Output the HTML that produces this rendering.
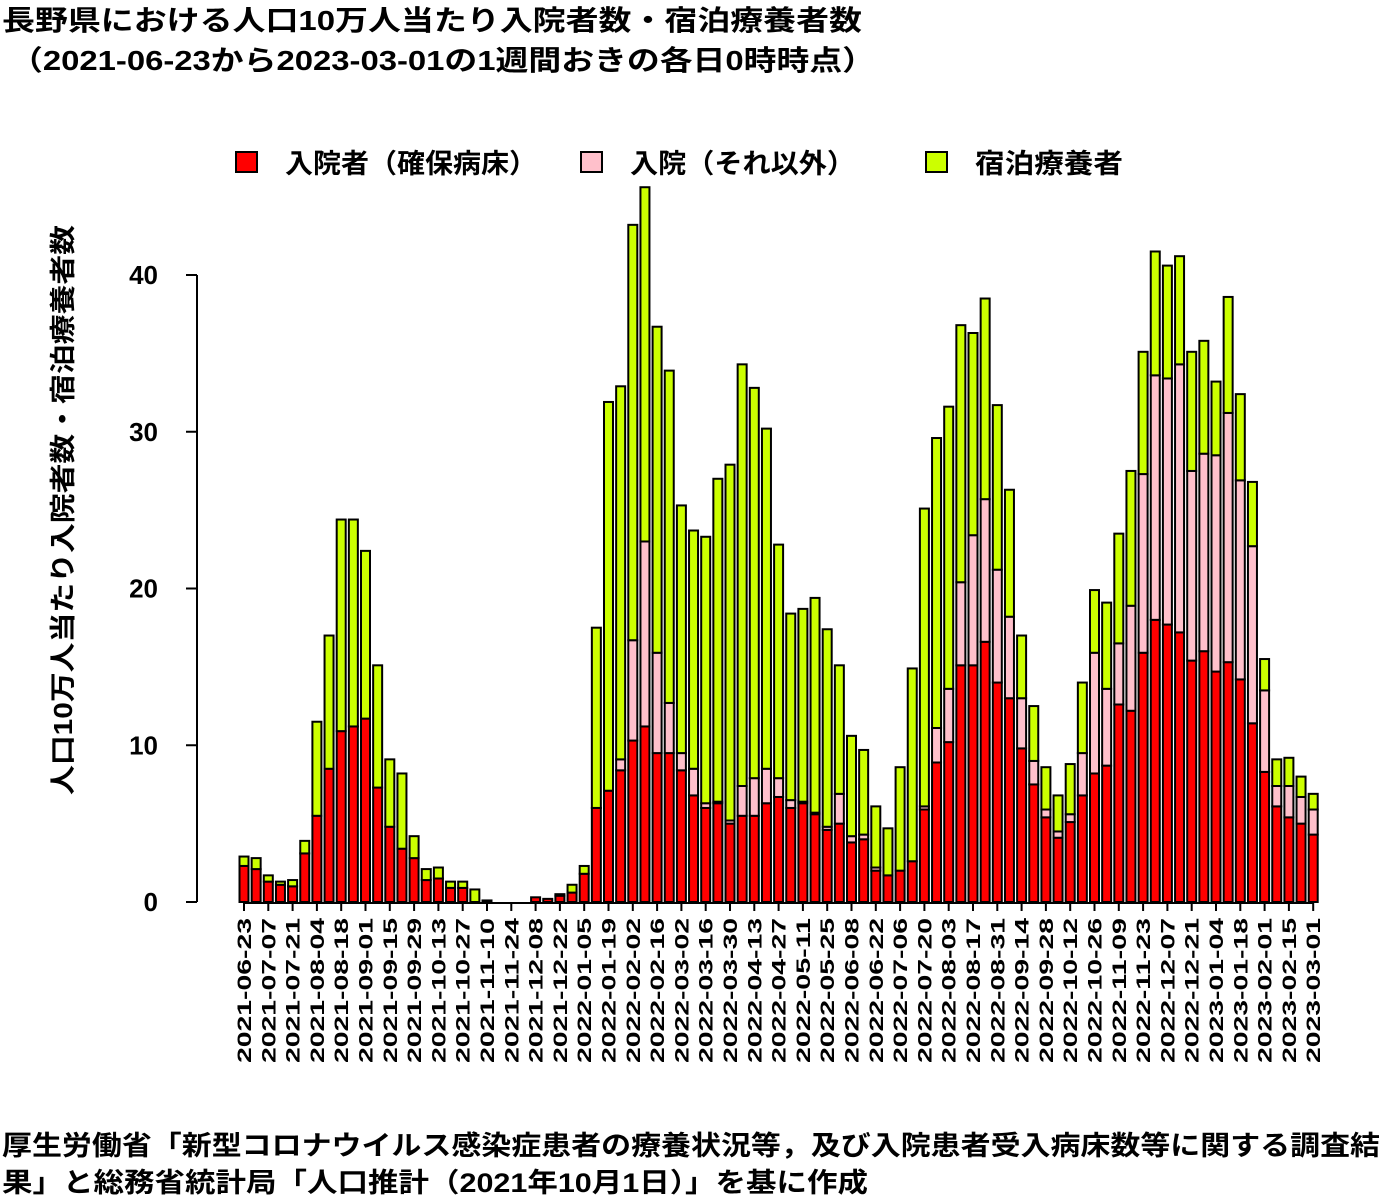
<!DOCTYPE html>
<html><head><meta charset="utf-8">
<style>
body{margin:0;background:#fff;}
svg{display:block;font-family:"Liberation Sans","Noto Sans CJK JP",sans-serif;font-weight:bold;}
</style></head>
<body>
<svg id="chart" width="1400" height="1200" viewBox="0 0 1400 1200">
<text x="2" y="30" font-size="28" textLength="860" lengthAdjust="spacingAndGlyphs">長野県における人口10万人当たり入院者数・宿泊療養者数</text>
<text x="10" y="70" font-size="28" textLength="865" lengthAdjust="spacingAndGlyphs">（2021-06-23から2023-03-01の1週間おきの各日0時時点）</text>
<g>
<rect x="236" y="152" width="21" height="20" fill="#ff0000" stroke="#000" stroke-width="2"/>
<text x="285" y="173" font-size="27" textLength="252" lengthAdjust="spacingAndGlyphs">入院者（確保病床）</text>
<rect x="581" y="152" width="21" height="20" fill="#ffc0cb" stroke="#000" stroke-width="2"/>
<text x="630" y="173" font-size="27" textLength="225" lengthAdjust="spacingAndGlyphs">入院（それ以外）</text>
<rect x="926" y="152" width="21" height="20" fill="#ccff00" stroke="#000" stroke-width="2"/>
<text x="975" y="173" font-size="27" textLength="148" lengthAdjust="spacingAndGlyphs">宿泊療養者</text>
</g>
<text transform="translate(72,510) rotate(-90)" text-anchor="middle" font-size="26" textLength="570" lengthAdjust="spacingAndGlyphs">人口10万人当たり入院者数・宿泊療養者数</text>
<g id="yaxis"></g>
<g id="bars"></g>
<g id="xaxis"></g>
<text x="2" y="1155" font-size="27" textLength="1378" lengthAdjust="spacingAndGlyphs">厚生労働省「新型コロナウイルス感染症患者の療養状況等，及び入院患者受入病床数等に関する調査結</text>
<text x="2" y="1192" font-size="27" textLength="866" lengthAdjust="spacingAndGlyphs">果」と総務省統計局「人口推計（2021年10月1日）」を基に作成</text>
</svg>
<script>
const startDate = "2021-06-23";
const secured = [2.3,2.1,1.3,1.1,1.0,3.1,5.5,8.5,10.9,11.2,11.7,7.3,4.8,3.4,2.8,1.4,1.5,0.9,0.9,0,0.1,0,0,0,0.3,0.2,0.4,0.6,1.8,6.0,7.1,8.4,10.3,11.2,9.5,9.5,8.4,6.8,6.0,6.3,5.0,5.5,5.5,6.3,6.7,6.0,6.3,5.6,4.6,5.0,3.8,4.0,2.0,1.7,2.0,2.6,5.9,8.9,10.2,15.1,15.1,16.6,14.0,13.0,9.8,7.5,5.4,4.1,5.1,6.8,8.2,8.7,12.6,12.2,15.9,18.0,17.7,17.2,15.4,16.0,14.7,15.3,14.2,11.4,8.3,6.1,5.4,5.0,4.3];
const other = [0,0,0,0,0,0,0,0,0,0,0,0,0,0,0,0,0,0,0,0,0,0,0,0,0,0,0,0,0,0,0,0.7,6.4,11.8,6.4,3.2,1.1,1.7,0.3,0.1,0.2,1.9,2.4,2.2,1.2,0.5,0.1,0.1,0.2,1.9,0.4,0.3,0.2,0,0,0,0.2,2.2,3.4,5.3,8.3,9.1,7.2,5.2,3.2,1.5,0.5,0.4,0.5,2.7,7.7,4.9,3.9,6.7,11.4,15.6,15.7,17.1,12.1,12.6,13.8,15.9,12.7,11.3,5.2,1.3,2.0,1.7,1.6];
const hotel = [0.6,0.7,0.4,0.2,0.4,0.8,6.0,8.5,13.5,13.2,10.7,7.8,4.3,4.8,1.4,0.7,0.7,0.4,0.4,0.8,0,0,0,0,0,0,0.1,0.5,0.5,11.5,24.8,23.8,26.5,22.6,20.8,21.2,15.8,15.2,17.0,20.6,22.7,26.9,24.9,21.7,14.9,11.9,12.3,13.7,12.6,8.2,6.4,5.4,3.9,3.0,6.6,12.3,19.0,18.5,18.0,16.4,12.9,12.8,10.5,8.1,4.0,3.5,2.7,2.3,3.2,4.5,4.0,5.5,7.0,8.6,7.8,7.9,7.2,6.9,7.6,7.2,4.7,7.4,5.5,4.1,2.0,1.7,1.8,1.3,1.0];
const yTicks = [0,10,20,30,40];

const NS="http://www.w3.org/2000/svg";
const x0=244, step=12.15, bw=9, yBase=902, pxPerUnit=15.675;
const xPos=i=>x0+i*step;
const yPos=v=>yBase-v*pxPerUnit;
function mk(tag,attrs,parent){const e=document.createElementNS(NS,tag);for(const k in attrs)e.setAttribute(k,attrs[k]);parent.appendChild(e);return e;}
const ya=document.getElementById('yaxis');
mk('line',{x1:197,x2:197,y1:yPos(40),y2:yPos(0),stroke:'#000','stroke-width':2},ya);
yTicks.forEach(t=>{
  const l=mk('line',{x1:186,x2:197,y1:yPos(t),y2:yPos(t),stroke:'#000','stroke-width':2},ya);
  
  
  const tx=mk('text',{x:158,y:yPos(t)+9,'text-anchor':'end','font-size':26},ya);
  tx.textContent=t;
  
  
});
const bars=document.getElementById('bars');
const colors=['#ff0000','#ffc0cb','#ccff00'];
const names=['bar-secured','bar-other','bar-hotel'];
secured.forEach((s,i)=>{
  const vals=[s,other[i],hotel[i]];
  let acc=0;
  vals.forEach((v,k)=>{
    if(v<=0)return;
    const r=mk('rect',{x:xPos(i)-bw/2,y:yPos(acc+v),width:bw,height:v*pxPerUnit,fill:colors[k],stroke:'#000','stroke-width':2},bars);
    
    
    acc+=v;
  });
});
const xa=document.getElementById('xaxis');
const n=secured.length;
const lastLab=Math.floor((n-1)/2)*2;
mk('line',{x1:xPos(0),x2:xPos(lastLab),y1:903,y2:903,stroke:'#000','stroke-width':2},xa);
const d0=new Date(startDate+"T00:00:00Z");
for(let i=0;i<n;i+=2){
  mk('line',{x1:xPos(i),x2:xPos(i),y1:903,y2:911,stroke:'#000','stroke-width':2},xa);
  const d=new Date(d0.getTime()+i*7*86400000);
  const s=d.toISOString().slice(0,10);
  const t=mk('text',{transform:`translate(${xPos(i)+7},918) rotate(-90)`,'text-anchor':'end','font-size':19,textLength:145,lengthAdjust:'spacingAndGlyphs'},xa);
  t.textContent=s;
  
  
}
</script>
</body></html>
